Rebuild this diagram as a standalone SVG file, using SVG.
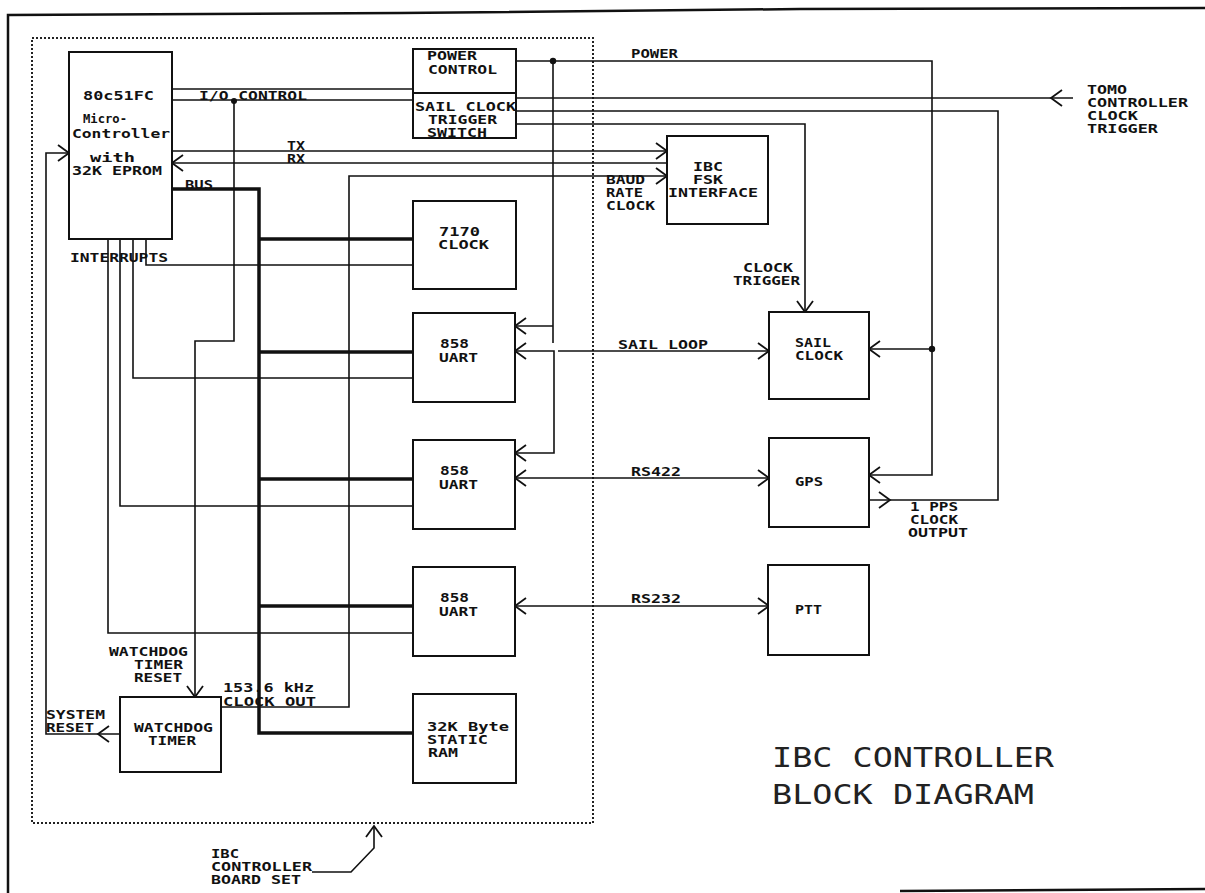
<svg xmlns="http://www.w3.org/2000/svg" width="1205" height="893" viewBox="0 0 1205 893">
<style>
.t{font-family:"DejaVu Sans Mono","Liberation Mono",monospace;font-size:11.5px;font-weight:bold;fill:#111}
.title{font-family:"DejaVu Sans Mono","Liberation Mono",monospace;font-size:26px;fill:#222}
.box{fill:#fff;stroke:#111;stroke-width:2}
.w{fill:none;stroke:#111;stroke-width:1.6}
.bus{fill:none;stroke:#111;stroke-width:3.5}
.frame{fill:none;stroke:#111;stroke-width:2.5}
.dot{fill:none;stroke:#222;stroke-width:2;stroke-dasharray:2 2}
.ch{fill:none;stroke:#111;stroke-width:1.8}
</style>
<defs>
<marker id="ah" markerUnits="userSpaceOnUse" markerWidth="16" markerHeight="20" viewBox="0 0 16 20" refX="13" refY="10" orient="auto-start-reverse"><path d="M2,2 L13,10 L2,18" fill="none" stroke="#111" stroke-width="1.8"/></marker>
</defs>
<rect width="1205" height="893" fill="#fff"/>
<g id="frame">
<path class="frame" d="M8,893 V15 L400,13 L800,9 L1205,8"/>
<path class="frame" d="M900,891 L1205,889"/>
</g>
<g id="board-set">
<rect class="dot" x="32" y="38" width="561" height="785"/>
<text class="t" x="211" y="858" textLength="28" lengthAdjust="spacingAndGlyphs">IBC</text>
<text class="t" x="211" y="871" textLength="101" lengthAdjust="spacingAndGlyphs">CONTROLLER</text>
<text class="t" x="211" y="884" textLength="90" lengthAdjust="spacingAndGlyphs">BOARD SET</text>
</g>
<g id="connectors">
<path class="w" d="M172,89 H413"/>
<path class="w" d="M172,100 H413"/>
<path class="w" d="M234,101 V341 H195 V697" marker-end="url(#ah)"/>
<path class="w" d="M172,151 H667" marker-end="url(#ah)"/>
<path class="w" d="M667,163 H172" marker-end="url(#ah)"/>
<path class="w" d="M221,707 H349 V176 H667" marker-end="url(#ah)"/>
<path class="w" d="M120,734 H46 V153 H69" marker-end="url(#ah)"/>
<path class="ch" d="M109,726 L98,734 L109,742"/>
<path class="w" d="M146,239 V265 H413"/>
<path class="w" d="M133,239 V378 H413"/>
<path class="w" d="M120,239 V506 H413"/>
<path class="w" d="M108,239 V633 H413"/>
<path class="bus" d="M172,189 H259 V733 H413"/>
<path class="bus" d="M259,239 H413 M259,352 H413 M259,479 H413 M259,606 H413"/>
<path class="w" d="M516,61 H932 V475 H869" marker-end="url(#ah)"/>
<path class="w" d="M553,61 V343"/>
<path class="w" d="M553,326 H515" marker-end="url(#ah)"/>
<path class="w" d="M932,349 H869" marker-end="url(#ah)"/>
<circle cx="553" cy="61" r="3.2" fill="#111"/>
<circle cx="932" cy="349" r="3.2" fill="#111"/>
<circle cx="234" cy="101" r="3" fill="#111"/>
<path class="w" d="M1073,98 H516"/>
<path class="ch" d="M1062,90 L1051,98 L1062,106"/>
<path class="w" d="M869,500 H998 V111 H516"/>
<path class="ch" d="M879,492 L890,500 L879,508"/>
<path class="w" d="M516,124 H805 V312" marker-end="url(#ah)"/>
<path class="w" d="M515,351 H554 V453 H515" marker-start="url(#ah)" marker-end="url(#ah)"/>
<path class="w" d="M558,351 H769" marker-end="url(#ah)"/>
<path class="w" d="M515,478 H769" marker-start="url(#ah)" marker-end="url(#ah)"/>
<path class="w" d="M515,606 H769" marker-start="url(#ah)" marker-end="url(#ah)"/>
<path class="w" d="M312,872 H351 L374,848 V826" marker-end="url(#ah)"/>
</g>
<g id="labels">
<text class="t" x="199" y="100" textLength="108" lengthAdjust="spacingAndGlyphs">I/O CONTROL</text>
<text class="t" x="287" y="150" textLength="18" lengthAdjust="spacingAndGlyphs">TX</text>
<text class="t" x="287" y="163" textLength="18" lengthAdjust="spacingAndGlyphs">RX</text>
<text class="t" x="185" y="189" textLength="28" lengthAdjust="spacingAndGlyphs">BUS</text>
<text class="t" x="70" y="262" textLength="98" lengthAdjust="spacingAndGlyphs">INTERRUPTS</text>
<text class="t" x="631" y="58" textLength="47" lengthAdjust="spacingAndGlyphs">POWER</text>
<text class="t" x="606" y="184" textLength="39" lengthAdjust="spacingAndGlyphs">BAUD</text>
<text class="t" x="606" y="197" textLength="37" lengthAdjust="spacingAndGlyphs">RATE</text>
<text class="t" x="606" y="210" textLength="49" lengthAdjust="spacingAndGlyphs">CLOCK</text>
<text class="t" x="743" y="272" textLength="50" lengthAdjust="spacingAndGlyphs">CLOCK</text>
<text class="t" x="733" y="285" textLength="67" lengthAdjust="spacingAndGlyphs">TRIGGER</text>
<text class="t" x="1087" y="94" textLength="40" lengthAdjust="spacingAndGlyphs">TOMO</text>
<text class="t" x="1087" y="107" textLength="101" lengthAdjust="spacingAndGlyphs">CONTROLLER</text>
<text class="t" x="1087" y="120" textLength="51" lengthAdjust="spacingAndGlyphs">CLOCK</text>
<text class="t" x="1087" y="133" textLength="71" lengthAdjust="spacingAndGlyphs">TRIGGER</text>
<text class="t" x="618" y="349" textLength="90" lengthAdjust="spacingAndGlyphs">SAIL LOOP</text>
<text class="t" x="631" y="476" textLength="50" lengthAdjust="spacingAndGlyphs">RS422</text>
<text class="t" x="631" y="603" textLength="50" lengthAdjust="spacingAndGlyphs">RS232</text>
<text class="t" x="910" y="511" textLength="48" lengthAdjust="spacingAndGlyphs">1 PPS</text>
<text class="t" x="910" y="524" textLength="48" lengthAdjust="spacingAndGlyphs">CLOCK</text>
<text class="t" x="908" y="537" textLength="60" lengthAdjust="spacingAndGlyphs">OUTPUT</text>
<text class="t" x="109" y="656" textLength="79" lengthAdjust="spacingAndGlyphs">WATCHDOG</text>
<text class="t" x="134" y="669" textLength="49" lengthAdjust="spacingAndGlyphs">TIMER</text>
<text class="t" x="134" y="682" textLength="48" lengthAdjust="spacingAndGlyphs">RESET</text>
<text class="t" x="223" y="692" textLength="91" lengthAdjust="spacingAndGlyphs">153.6 kHz</text>
<text class="t" x="223" y="706" textLength="93" lengthAdjust="spacingAndGlyphs">CLOCK OUT</text>
<text class="t" x="46" y="719" textLength="59" lengthAdjust="spacingAndGlyphs">SYSTEM</text>
<text class="t" x="46" y="732" textLength="48" lengthAdjust="spacingAndGlyphs">RESET</text>
</g>
<g id="micro">
<rect class="box" x="69" y="52" width="103" height="187"/>
<text class="t" x="83" y="100" textLength="71" lengthAdjust="spacingAndGlyphs">80c51FC</text>
<text class="t" x="83" y="123" textLength="44" lengthAdjust="spacingAndGlyphs">Micro-</text>
<text class="t" x="72" y="138" textLength="98" lengthAdjust="spacingAndGlyphs">Controller</text>
<text class="t" x="90" y="162" textLength="45" lengthAdjust="spacingAndGlyphs">with</text>
<text class="t" x="72" y="175" textLength="90" lengthAdjust="spacingAndGlyphs">32K EPROM</text>
</g>
<g id="power-control">
<rect class="box" x="413" y="49" width="103" height="89"/>
<path class="w" d="M413,93 H516" style="stroke-width:2"/>
<text class="t" x="427" y="60" textLength="50" lengthAdjust="spacingAndGlyphs">POWER</text>
<text class="t" x="428" y="74" textLength="69" lengthAdjust="spacingAndGlyphs">CONTROL</text>
<text class="t" x="415" y="111" textLength="101" lengthAdjust="spacingAndGlyphs">SAIL CLOCK</text>
<text class="t" x="428" y="124" textLength="69" lengthAdjust="spacingAndGlyphs">TRIGGER</text>
<text class="t" x="427" y="137" textLength="60" lengthAdjust="spacingAndGlyphs">SWITCH</text>
</g>
<g id="fsk">
<rect class="box" x="667" y="136" width="101" height="88"/>
<text class="t" x="693" y="171" textLength="30" lengthAdjust="spacingAndGlyphs">IBC</text>
<text class="t" x="693" y="184" textLength="30" lengthAdjust="spacingAndGlyphs">FSK</text>
<text class="t" x="668" y="197" textLength="90" lengthAdjust="spacingAndGlyphs">INTERFACE</text>
</g>
<g id="clock7170">
<rect class="box" x="413" y="201" width="103" height="88"/>
<text class="t" x="439" y="236" textLength="41" lengthAdjust="spacingAndGlyphs">7170</text>
<text class="t" x="438" y="249" textLength="51" lengthAdjust="spacingAndGlyphs">CLOCK</text>
</g>
<g id="uart1">
<rect class="box" x="413" y="313" width="102" height="89"/>
<text class="t" x="440" y="348" textLength="29" lengthAdjust="spacingAndGlyphs">858</text>
<text class="t" x="439" y="362" textLength="39" lengthAdjust="spacingAndGlyphs">UART</text>
</g>
<g id="uart2">
<rect class="box" x="413" y="440" width="102" height="89"/>
<text class="t" x="440" y="475" textLength="29" lengthAdjust="spacingAndGlyphs">858</text>
<text class="t" x="439" y="489" textLength="39" lengthAdjust="spacingAndGlyphs">UART</text>
</g>
<g id="uart3">
<rect class="box" x="413" y="567" width="102" height="89"/>
<text class="t" x="440" y="602" textLength="29" lengthAdjust="spacingAndGlyphs">858</text>
<text class="t" x="439" y="616" textLength="39" lengthAdjust="spacingAndGlyphs">UART</text>
</g>
<g id="sram">
<rect class="box" x="413" y="694" width="103" height="89"/>
<text class="t" x="427" y="731" textLength="82" lengthAdjust="spacingAndGlyphs">32K Byte</text>
<text class="t" x="427" y="744" textLength="61" lengthAdjust="spacingAndGlyphs">STATIC</text>
<text class="t" x="428" y="757" textLength="30" lengthAdjust="spacingAndGlyphs">RAM</text>
</g>
<g id="watchdog">
<rect class="box" x="120" y="697" width="101" height="75"/>
<text class="t" x="134" y="732" textLength="79" lengthAdjust="spacingAndGlyphs">WATCHDOG</text>
<text class="t" x="148" y="745" textLength="48" lengthAdjust="spacingAndGlyphs">TIMER</text>
</g>
<g id="sailclock">
<rect class="box" x="769" y="312" width="100" height="87"/>
<text class="t" x="795" y="347" textLength="36" lengthAdjust="spacingAndGlyphs">SAIL</text>
<text class="t" x="795" y="360" textLength="48" lengthAdjust="spacingAndGlyphs">CLOCK</text>
</g>
<g id="gps">
<rect class="box" x="769" y="438" width="100" height="89"/>
<text class="t" x="795" y="486" textLength="28" lengthAdjust="spacingAndGlyphs">GPS</text>
</g>
<g id="ptt">
<rect class="box" x="768" y="565" width="101" height="90"/>
<text class="t" x="795" y="614" textLength="27" lengthAdjust="spacingAndGlyphs">PTT</text>
</g>
<g id="title">
<text class="title" x="772" y="767" textLength="282" lengthAdjust="spacingAndGlyphs">IBC CONTROLLER</text>
<text class="title" x="772" y="804" textLength="262" lengthAdjust="spacingAndGlyphs">BLOCK DIAGRAM</text>
</g>
</svg>
